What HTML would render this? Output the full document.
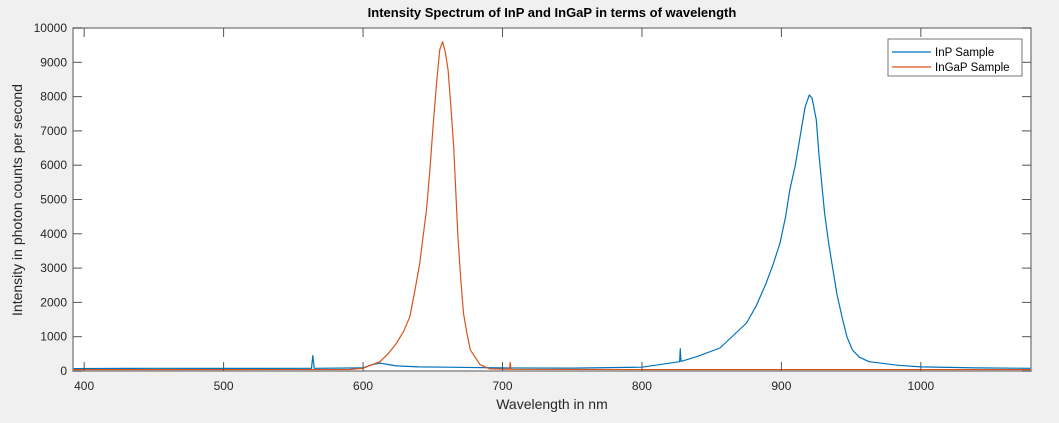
<!DOCTYPE html>
<html><head><meta charset="utf-8"><style>
body{margin:0;background:#f0f0f0;width:1059px;height:418px;overflow:hidden;font-family:"Liberation Sans",sans-serif;}
svg text{font-family:"Liberation Sans",sans-serif;fill:#262626;}
</style></head><body>
<svg id="chart" width="1059" height="418" xmlns="http://www.w3.org/2000/svg">
<rect x="0" y="0" width="1059" height="418" fill="#f0f0f0"/>
<rect x="73" y="28" width="958" height="343" fill="#ffffff"/>
<g id="series"></g>
<rect x="73" y="28" width="958" height="343" fill="none" stroke="#8c8c8c" stroke-width="1.5"/>
<g id="ticks"></g>
<text x="552" y="17" text-anchor="middle" font-size="13" font-weight="bold" style="fill:#000">Intensity Spectrum of InP and InGaP in terms of wavelength</text>
<text x="552" y="409" text-anchor="middle" font-size="14">Wavelength in nm</text>
<text transform="translate(22,200) rotate(-90)" text-anchor="middle" font-size="14">Intensity in photon counts per second</text>
<g>
<rect x="888" y="39" width="134" height="37" fill="#fff" stroke="#777" stroke-width="1"/>
<line x1="892" y1="52" x2="931" y2="52" stroke="#0072bd" stroke-width="1.2"/>
<text x="935" y="56" font-size="11.5" style="fill:#000">InP Sample</text>
<line x1="892" y1="67" x2="931" y2="67" stroke="#d95319" stroke-width="1.2"/>
<text x="935" y="71" font-size="11.5" style="fill:#000">InGaP Sample</text>
</g>
</svg>
<script>
const xTicks=[400,500,600,700,800,900,1000];
const yTicks=[0,1000,2000,3000,4000,5000,6000,7000,8000,9000,10000];
const inpWavelengths=[392,450,500,563,564,565,600,606,612,618,624,640,660,700,750,800,827,827.5,828,840,856,875,882,889,894,899,903,906,910,913,917,920,922,925,927,931,934,937,940,944,947,951,956,963,983,1000,1040,1079];
const inpValues=[70,80,75,80,450,80,90,180,230,190,150,120,110,90,85,110,270,650,280,430,670,1400,1900,2560,3100,3730,4500,5280,6000,6730,7700,8050,7950,7320,6300,4600,3700,2940,2200,1490,1000,610,400,270,170,120,90,80];
const ingapWavelengths=[392,500,590,600,612,618,624,629,633.5,637,640.7,643,645.5,648,650,652.5,655,657,659,661,663,665,668,670,672,674.5,677,684,691,705,705.5,706,800,900,1079];
const ingapValues=[40,40,45,80,270,500,810,1150,1580,2300,3150,3900,4700,5900,7030,8300,9360,9600,9300,8770,7700,6540,3920,2700,1680,1100,610,180,60,50,250,50,40,40,40];
const xMin=392,xMax=1079,yMin=0,yMax=10000;
const L=73,R=1031,T=28,B=371;
function xs(v){return L+(v-xMin)/(xMax-xMin)*(R-L);}
function ys(v){return B-(v-yMin)/(yMax-yMin)*(B-T);}
const NS='http://www.w3.org/2000/svg';
const sg=document.getElementById('series');
function line(xsArr,ysArr,color,name){
  const p=document.createElementNS(NS,'polyline');
  p.setAttribute('points',xsArr.map((x,i)=>xs(x).toFixed(1)+','+ys(ysArr[i]).toFixed(1)).join(' '));
  p.setAttribute('fill','none');p.setAttribute('stroke',color);p.setAttribute('stroke-width','1.2');p.setAttribute('stroke-linejoin','round');
  
  
  sg.appendChild(p);
}
line(inpWavelengths,inpValues,'#0072bd','inp-series-line');
line(ingapWavelengths,ingapValues,'#d95319','ingap-series-line');
const tg=document.getElementById('ticks');
function mk(tag,attrs){const e=document.createElementNS(NS,tag);for(const k in attrs)e.setAttribute(k,attrs[k]);tg.appendChild(e);return e;}
xTicks.forEach(t=>{
  const x=xs(t);
  const a=mk('line',{x1:x,x2:x,y1:B,y2:B-9,stroke:'#555','stroke-width':1});
  
  
  const b=mk('line',{x1:x,x2:x,y1:T,y2:T+9,stroke:'#555','stroke-width':1});
  
  
  const tx=mk('text',{x:x,y:390,'text-anchor':'middle','font-size':'12'});
  tx.textContent=t;
  
  
});
yTicks.forEach(t=>{
  const y=ys(t);
  const a=mk('line',{x1:L,x2:L+9,y1:y,y2:y,stroke:'#555','stroke-width':1});
  
  
  const b=mk('line',{x1:R,x2:R-9,y1:y,y2:y,stroke:'#555','stroke-width':1});
  
  
  const tx=mk('text',{x:67,y:y+4,'text-anchor':'end','font-size':'12'});
  tx.textContent=t;
  
  
});
</script>
</body></html>
